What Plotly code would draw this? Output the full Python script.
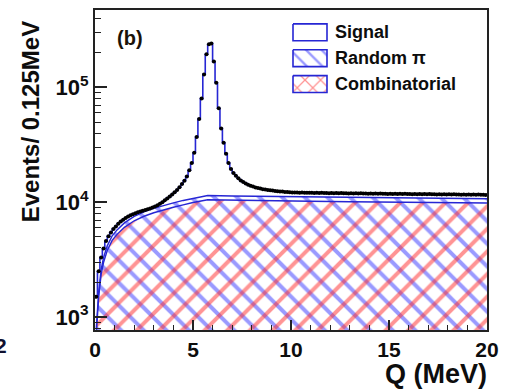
import plotly.graph_objects as go

# ---- data: events per 0.125 MeV bin, Q from 0 to 20 MeV ----
bin_width = 0.125
events = [
    1500, 2500, 3300, 3950, 4600, 5050, 5450, 5850, 6150, 6500,
    6800, 7050, 7300, 7500, 7700, 7880, 8020, 8180, 8320, 8450,
    8560, 8680, 8820, 9000, 9200, 9430, 9700, 10000, 10400, 10800,
    11200, 11700, 12200, 12800, 13500, 14400, 15400, 16800, 19000, 22000,
    27000, 37000, 53000, 80000, 130000, 195000, 238000, 242000, 168000, 110000,
    66000, 44000, 33000, 26500, 22000, 19500, 18000, 17000, 16200, 15500,
    15000, 14600, 14200, 13900, 13700, 13450, 13300, 13150, 13000, 12900,
    12800, 12700, 12640, 12560, 12500, 12420, 12380, 12300, 12270, 12200,
    12180, 12140, 12190, 12110, 12150, 12090, 12130, 12070, 12110, 12050,
    12090, 12030, 12080, 12010, 12060, 12000, 12040, 11980, 12020, 11960,
    12010, 11950, 11990, 11930, 11980, 11920, 11970, 11900, 11950, 11890,
    11940, 11880, 11930, 11860, 11910, 11850, 11900, 11840, 11880, 11830,
    11870, 11820, 11860, 11800, 11850, 11790, 11840, 11780, 11830, 11770,
    11810, 11760, 11800, 11740, 11790, 11730, 11780, 11720, 11760, 11710,
    11750, 11700, 11740, 11680, 11730, 11670, 11720, 11660, 11700, 11650,
    11690, 11640, 11680, 11620, 11670, 11610, 11660, 11600, 11640, 11590,
]

# background components (fit curves)
bkg_q = [0.0625, 0.1875, 0.3125, 0.4375, 0.625, 0.875, 1.125, 1.5, 2.0, 2.5,
         3.0, 3.5, 4.0, 4.5, 5.0, 5.75, 7.0, 9.0, 11.0, 13.0, 15.0, 17.0, 19.0, 20.0]
bkg_comb = [700, 1500, 2350, 3000, 3800, 4650, 5250, 6050, 6900, 7550,
            8100, 8600, 9050, 9500, 9950, 10500, 10400, 10300, 10200, 10100,
            10000, 9950, 9880, 9850]
bkg_random = [80, 160, 240, 300, 370, 440, 490, 560, 630, 690,
              740, 790, 830, 870, 910, 960, 950, 940, 930, 920,
              910, 900, 890, 890]

legend_labels = ["Signal", "Random \u03c0", "Combinatorial"]
x_ticks = [0, 5, 10, 15, 20]
y_ticks = [1e3, 1e4, 1e5]
y_ticktext = ["10<sup>3</sup>", "10<sup>4</sup>", "10<sup>5</sup>"]

# ---- styling ----
BLUE_LINE = "#2626d4"
BLUE_HATCH = "#3636ff"
RED_HATCH = "#ff2a2a"
INK = "#0d0d0d"
FONT = "Liberation Sans"

n = len(events)
edges = [i * bin_width for i in range(n + 1)]
centers = [(i + 0.5) * bin_width for i in range(n)]
random_total = [c + r for c, r in zip(bkg_comb, bkg_random)]
floor = [100] * len(bkg_q)  # fill floor below the visible range

fig = go.Figure()

# random pi + combinatorial, blue "\" hatch
fig.add_trace(go.Scatter(x=bkg_q, y=floor, mode="lines", line=dict(width=0),
                         hoverinfo="skip"))
fig.add_trace(go.Scatter(
    x=bkg_q, y=random_total, mode="lines", fill="tonexty",
    fillcolor="rgba(0,0,0,0)",
    fillpattern=dict(shape="\\", fgcolor=BLUE_HATCH, bgcolor="rgba(0,0,0,0)",
                     size=16, solidity=0.25),
    line=dict(color=BLUE_LINE, width=1.4)))

# combinatorial, red "/" hatch
fig.add_trace(go.Scatter(x=bkg_q, y=floor, mode="lines", line=dict(width=0),
                         hoverinfo="skip"))
fig.add_trace(go.Scatter(
    x=bkg_q, y=bkg_comb, mode="lines", fill="tonexty",
    fillcolor="rgba(0,0,0,0)",
    fillpattern=dict(shape="/", fgcolor=RED_HATCH, bgcolor="rgba(0,0,0,0)",
                     size=16, solidity=0.25),
    line=dict(color=BLUE_LINE, width=1.4)))

# total fit histogram
fig.add_trace(go.Scatter(
    x=edges, y=events + [events[-1]], mode="lines", line_shape="hv",
    line=dict(color=BLUE_LINE, width=1.6)))

# data points
fig.add_trace(go.Scatter(
    x=centers, y=events, mode="markers",
    marker=dict(color="black", size=4, symbol="circle"),
    error_y=dict(type="data", array=[v ** 0.5 for v in events],
                 color="black", thickness=1, width=0)))

# ---- legend drawn on a pixel-scaled overlay axis ----
box_x0, box_x1 = 293, 327
box_rows = [(22, 39), (48, 65), (74, 91)]
box_patterns = [
    None,
    dict(shape="\\", fgcolor=BLUE_HATCH, bgcolor="white", size=11, solidity=0.22),
    dict(shape="x", fgcolor=RED_HATCH, bgcolor="white", size=11, solidity=0.22),
]
for (y0, y1), pat, label in zip(box_rows, box_patterns, legend_labels):
    kw = dict(fillpattern=pat) if pat else {}
    fig.add_trace(go.Scatter(
        x=[box_x0, box_x1, box_x1, box_x0, box_x0],
        y=[y0, y0, y1, y1, y0],
        mode="lines", fill="toself", fillcolor="white",
        line=dict(color=BLUE_LINE, width=1.6),
        xaxis="x2", yaxis="y2", hoverinfo="skip", **kw))
    fig.add_annotation(x=333, y=(y0 + y1) / 2, xref="x2", yref="y2",
                       text=label, showarrow=False, xanchor="left",
                       yanchor="middle",
                       font=dict(family=FONT, size=18, color=INK, weight="bold"))

L, R, T, B = 95, 487, 8, 330
W, H = 510, 390


def px_to_paper(px, py):
    return (px - L) / (R - L), (B - py) / (B - T)


# panel tag
tx, ty = px_to_paper(130, 36)
fig.add_annotation(x=tx, y=ty, xref="paper", yref="paper", text="(b)",
                   showarrow=False, xanchor="center", yanchor="middle",
                   font=dict(family=FONT, size=20, color="#1a1208", weight="bold"))

# axis titles
tx, ty = px_to_paper(30, 121)
fig.add_annotation(x=tx, y=ty, xref="paper", yref="paper",
                   text="Events/ 0.125MeV", textangle=-90, showarrow=False,
                   xanchor="center", yanchor="middle",
                   font=dict(family=FONT, size=24, color=INK, weight="bold"))
tx, ty = px_to_paper(489, 374)
fig.add_annotation(x=tx, y=ty, xref="paper", yref="paper", text="Q (MeV)",
                   showarrow=False, xanchor="right", yanchor="middle",
                   font=dict(family=FONT, size=27, color=INK, weight="bold"))

# neighbouring panel's tick label, cut at the page edge
tx, ty = px_to_paper(9, 346)
fig.add_annotation(x=tx, y=ty, xref="paper", yref="paper", text="2",
                   showarrow=False, xanchor="right", yanchor="middle",
                   font=dict(family=FONT, size=21, color="#101030", weight="bold"))

minor_y = [m * 10 ** e for e in (2, 3, 4, 5) for m in range(2, 10)]

fig.update_layout(
    width=W, height=H,
    margin=dict(l=L, r=W - R, t=T, b=H - B, pad=0),
    paper_bgcolor="white", plot_bgcolor="white",
    showlegend=False,
    font=dict(family=FONT, color=INK),
    xaxis=dict(
        range=[0, 20], tickvals=x_ticks, ticks="inside", ticklen=10,
        tickwidth=1.5, tickcolor="#222", showgrid=False, zeroline=False,
        showline=True, linecolor="#222", linewidth=2, mirror=True,
        tickfont=dict(family=FONT, size=21, color=INK, weight="bold"),
        minor=dict(dtick=1, ticks="inside", ticklen=5, tickcolor="#222",
                   tickwidth=1, showgrid=False),
    ),
    yaxis=dict(
        type="log", range=[2.887, 5.675], tickvals=y_ticks, ticktext=y_ticktext,
        ticks="inside", ticklen=12, tickwidth=1.5, tickcolor="#222",
        showgrid=False, zeroline=False, showline=True, linecolor="#222",
        linewidth=2, mirror=True,
        tickfont=dict(family=FONT, size=22, color=INK, weight="bold"),
        minor=dict(tickvals=minor_y, ticks="inside", ticklen=6,
                   tickcolor="#222", tickwidth=1, showgrid=False),
    ),
    xaxis2=dict(overlaying="x", range=[L, R], visible=False, anchor="y2"),
    yaxis2=dict(overlaying="y", range=[B, T], visible=False, anchor="x2"),
)

fig.write_html("out.html")
